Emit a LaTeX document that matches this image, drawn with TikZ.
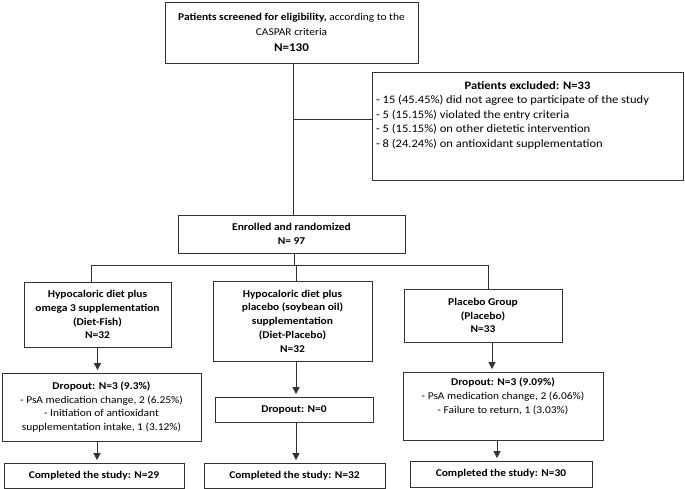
\documentclass[tikz,border=0pt]{standalone}
\usepackage{fontspec}
\setmainfont{Carlito}[FakeStretch=1.1]
\usetikzlibrary{arrows.meta,calc}
\begin{document}
\begin{tikzpicture}[x=1pt,y=-1pt,
  box/.style={draw=black!80, line width=0.8pt, inner sep=0pt, align=center,
    font=\fontsize{10.4}{13.8}\selectfont},
  boldbox/.style={box, font=\fontsize{10.4}{13.8}\selectfont\bfseries},
  conn/.style={draw=black!80, line width=0.8pt},
  arr/.style={conn, -{Triangle[width=7pt,length=7pt]}, shorten >=2.5pt}]
\useasboundingbox (0,0) rectangle (685,489);
% boxes
\node[box, minimum width=253pt, minimum height=61pt, font=\fontsize{10.4}{15}\selectfont] (top) at (291.5,32.5)
  {\textbf{Patients screened for eligibility,} according to the\\ CASPAR criteria\\[0.5pt]
   {\fontsize{11.8}{15}\selectfont\bfseries N=130}};
\node[box, minimum width=311pt, minimum height=108pt, inner xsep=4pt, inner ysep=9pt] (excl) at (527.5,126)
  {\parbox[t][90pt][t]{303pt}{\fontsize{11.4}{14.5}\selectfont
   {\centering\bfseries Patients excluded: N=33\par}\raggedright
   - 15 (45.45\%) did not agree to participate of the study\\
   - 5 (15.15\%) violated the entry criteria\\
   - 5 (15.15\%) on other dietetic intervention\\
   - 8 (24.24\%) on antioxidant supplementation}};
\node[boldbox, minimum width=227pt, minimum height=38pt] (enr) at (291.5,234)
  {Enrolled and randomized\\ N= 97};
\node[boldbox, minimum width=147pt, minimum height=65pt] (g1) at (97.5,314.5)
  {Hypocaloric diet plus\\ omega 3 supplementation\\ (Diet-Fish)\\ N=32};
\node[boldbox, minimum width=159pt, minimum height=80pt] (g2) at (292.5,321)
  {Hypocaloric diet plus\\ placebo (soybean oil)\\ supplementation\\ (Diet-Placebo)\\ N=32};
\node[boldbox, minimum width=158pt, minimum height=53pt] (g3) at (483,315.5)
  {Placebo Group\\ (Placebo)\\ N=33};
\node[box, minimum width=199pt, minimum height=68pt] (d1) at (101.5,407)
  {\textbf{Dropout: N=3 (9.3\%)}\\ - PsA medication change, 2 (6.25\%)\\ - Initiation of antioxidant\\ supplementation intake, 1 (3.12\%)};
\node[boldbox, minimum width=158pt, minimum height=25pt] (d2) at (294,409.5)
  {Dropout: N=0};
\node[box, minimum width=200pt, minimum height=68pt, inner ysep=6pt] (d3) at (503,406)
  {\parbox[t][56pt][t]{196pt}{\centering\fontsize{10.4}{13.8}\selectfont
   \textbf{Dropout: N=3 (9.09\%)}\\ - PsA medication change, 2 (6.06\%)\\ - Failure to return, 1 (3.03\%)}};
\node[boldbox, minimum width=180pt, minimum height=25pt] (c1) at (94,475.5)
  {Completed the study: N=29};
\node[boldbox, minimum width=181pt, minimum height=25pt] (c2) at (294.5,475.5)
  {Completed the study: N=32};
\node[boldbox, minimum width=182pt, minimum height=26pt] (c3) at (501,474)
  {Completed the study: N=30};
\coordinate (br) at (0,265);
\coordinate (ex) at ([yshift=7pt]excl.west);
% connectors
\draw[conn] ([xshift=1.5pt]top.south) -- ([xshift=1.5pt]top.south |- enr.north);
\draw[conn] ([xshift=1.5pt]top.south |- ex) -- (ex);
\draw[conn] ([xshift=3pt]enr.south) -- ([xshift=3pt]enr.south |- br);
\draw[conn] ([xshift=-6.5pt]g1.north) -- ([xshift=-6.5pt]g1.north |- br) -- ([xshift=5pt]g3.north |- br) -- ([xshift=5pt]g3.north);
\draw[conn] ([xshift=3.5pt]g2.north) -- ([xshift=3.5pt]g2.north |- br);
\draw[arr] (g1.south) -- (g1.south |- d1.north);
\draw[arr] ([xshift=-4.5pt]d1.south) -- ([xshift=-4.5pt]d1.south |- c1.north);
\draw[arr] ([xshift=2pt]d2.north |- g2.south) -- ([xshift=2pt]d2.north);
\draw[arr] ([xshift=2pt]d2.south) -- ([xshift=2pt]d2.south |- c2.north);
\draw[arr] ([xshift=9pt]g3.south) -- ([xshift=9pt]g3.south |- d3.north);
\draw[arr] ([xshift=-6pt]d3.south) -- ([xshift=-6pt]d3.south |- c3.north);
\end{tikzpicture}
\end{document}
